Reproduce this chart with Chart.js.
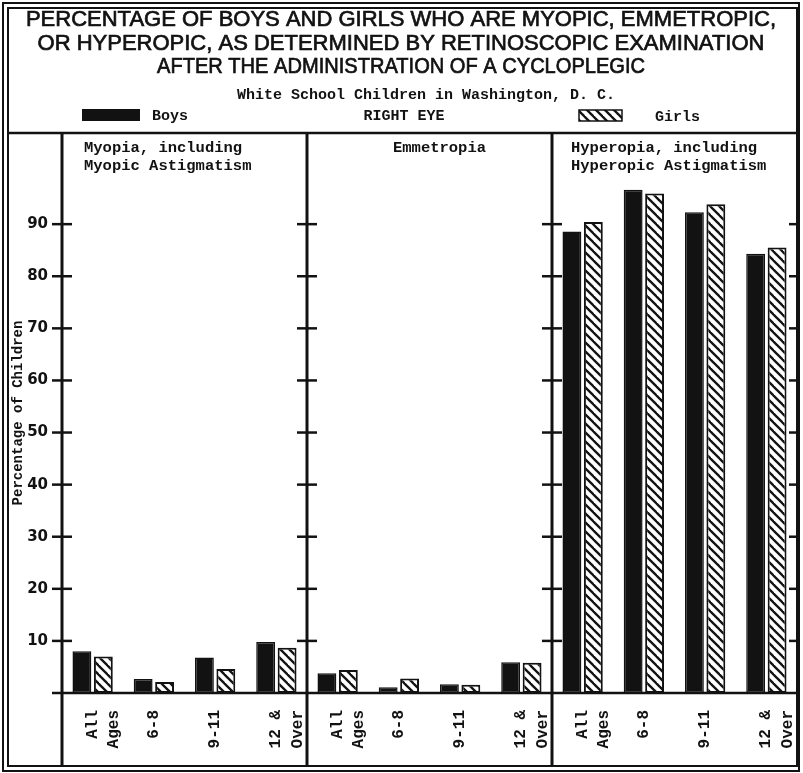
<!DOCTYPE html>
<html>
<head>
<meta charset="utf-8">
<script src="https://cdn.jsdelivr.net/npm/chart.js@4.4.1/dist/chart.umd.min.js"></script>
<style>
  html, body { margin: 0; padding: 0; background: #fff; }
  #wrap { width: 803px; height: 773px; }
</style>
</head>
<body>
<div id="wrap"><canvas id="eyeChart" width="803" height="773"></canvas></div>
<script>
// values (percent of children)
const ageGroups = [['All', 'Ages'], '6-8', '9-11', ['12 &', 'Over']];
const boysMyopia = [8.0, 2.7, 6.8, 9.8];
const girlsMyopia = [7.0, 2.1, 4.6, 8.7];
const boysEmmetropia = [3.8, 1.1, 1.7, 5.9];
const girlsEmmetropia = [4.4, 2.8, 1.6, 5.8];
const boysHyperopia = [88.6, 96.6, 92.3, 84.3];
const girlsHyperopia = [90.4, 95.9, 93.8, 85.5];
const yTicks = [10, 20, 30, 40, 50, 60, 70, 80, 90];

const panelTitles = [
    ['Myopia, including', 'Myopic Astigmatism'],
    ['Emmetropia'],
    ['Hyperopia, including', 'Hyperopic Astigmatism']
];
const titleLines = [
    'PERCENTAGE OF BOYS AND GIRLS WHO ARE MYOPIC, EMMETROPIC,',
    'OR HYPEROPIC, AS DETERMINED BY RETINOSCOPIC EXAMINATION',
    'AFTER THE ADMINISTRATION OF A CYCLOPLEGIC'
];
const subTitle = 'White School Children in Washington, D. C.';

const ink = '#121212';
const mono = '"Liberation Mono", "DejaVu Sans Mono", monospace';

const labels = ageGroups.concat(ageGroups, ageGroups);
const boys = boysMyopia.concat(boysEmmetropia, boysHyperopia);
const girls = girlsMyopia.concat(girlsEmmetropia, girlsHyperopia);

function makeHatch() {
    const c = document.createElement('canvas');
    c.width = 9;
    c.height = 9;
    const g = c.getContext('2d');
    g.fillStyle = '#fff';
    g.fillRect(0, 0, 9, 9);
    g.strokeStyle = ink;
    g.lineWidth = 2.3;
    [-9, 0, 9].forEach(k => {
        g.beginPath();
        g.moveTo(k - 1, -1);
        g.lineTo(k + 10, 10);
        g.stroke();
    });
    return document.getElementById('eyeChart').getContext('2d').createPattern(c, 'repeat');
}
const hatch = makeHatch();

// frame, header text, legend, separators and cross ticks
const framePlugin = {
    id: 'frame',
    afterDraw(chart) {
        const ctx = chart.ctx;
        const area = chart.chartArea;
        const x = chart.scales.x;
        const y = chart.scales.y;
        const bottom = 766;
        ctx.save();
        ctx.strokeStyle = ink;
        ctx.fillStyle = ink;

        // double outer border
        ctx.lineWidth = 2;
        ctx.strokeRect(3, 3, 796, 768);
        ctx.strokeRect(8, 8, 789, 758);

        // header rule
        ctx.lineWidth = 2.5;
        ctx.beginPath();
        ctx.moveTo(8, area.top);
        ctx.lineTo(797, area.top);
        ctx.stroke();

        // title
        ctx.textAlign = 'center';
        ctx.textBaseline = 'middle';
        ctx.font = '22px "Liberation Sans", Arial, sans-serif';
        ctx.lineWidth = 0.7;
        const widths = [765, 745, 488];
        const rows = [20, 44, 67];
        titleLines.forEach((t, i) => {
            ctx.fillText(t, 401, rows[i], widths[i]);
            ctx.strokeText(t, 401, rows[i], widths[i]);
        });

        ctx.font = 'bold 15px ' + mono;
        ctx.fillText(subTitle, 426, 95, 378);

        // legend row
        ctx.fillText('RIGHT EYE', 404, 116, 88);
        ctx.textAlign = 'left';
        ctx.fillText('Boys', 152, 116, 40);
        ctx.fillText('Girls', 655, 117, 46);
        ctx.fillRect(82, 109, 58, 12);
        ctx.fillStyle = hatch;
        ctx.fillRect(579, 110, 43, 11);
        ctx.lineWidth = 1.5;
        ctx.strokeRect(579, 110, 43, 11);
        ctx.fillStyle = ink;

        // vertical lines: axis, panel separators, right edge
        const sep1 = (x.getPixelForValue(3) + x.getPixelForValue(4)) / 2;
        const sep2 = (x.getPixelForValue(7) + x.getPixelForValue(8)) / 2;
        const verticals = [area.left, sep1, sep2];
        ctx.lineWidth = 3;
        verticals.forEach(vx => {
            ctx.beginPath();
            ctx.moveTo(vx, area.top);
            ctx.lineTo(vx, bottom);
            ctx.stroke();
        });

        // zero line runs a little past the axis on the left
        ctx.lineWidth = 2.5;
        ctx.beginPath();
        ctx.moveTo(area.left - 10, y.getPixelForValue(0));
        ctx.lineTo(797, y.getPixelForValue(0));
        ctx.stroke();

        // tick marks crossing each vertical
        ctx.lineWidth = 2.5;
        yTicks.forEach(v => {
            const py = y.getPixelForValue(v);
            verticals.forEach(vx => {
                ctx.beginPath();
                ctx.moveTo(vx - 10, py);
                ctx.lineTo(vx + 10, py);
                ctx.stroke();
            });
            ctx.beginPath();
            ctx.moveTo(789, py);
            ctx.lineTo(797, py);
            ctx.stroke();
        });

        // panel headings
        ctx.textAlign = 'left';
        ctx.textBaseline = 'alphabetic';
        ctx.font = 'bold 15.5px ' + mono;
        const headX = [area.left + 22, sep1 + 86, sep2 + 19];
        panelTitles.forEach((lines, i) => {
            lines.forEach((t, j) => ctx.fillText(t, headX[i], 152 + j * 18));
        });
        ctx.restore();
    }
};

new Chart(document.getElementById('eyeChart'), {
    type: 'bar',
    data: {
        labels: labels,
        datasets: [
            {
                label: 'Boys',
                data: boys,
                backgroundColor: ink,
                borderColor: ink,
                borderWidth: 1.5,
                borderSkipped: false,
                barPercentage: 0.88,
                categoryPercentage: 0.7
            },
            {
                label: 'Girls',
                data: girls,
                backgroundColor: hatch,
                borderColor: ink,
                borderWidth: 2,
                borderSkipped: false,
                barPercentage: 0.88,
                categoryPercentage: 0.7
            }
        ]
    },
    options: {
        responsive: false,
        animation: false,
        layout: { padding: { top: 133, left: 10, right: 6, bottom: 7 } },
        plugins: {
            legend: { display: false },
            tooltip: { enabled: false }
        },
        scales: {
            x: {
                grid: { display: false, drawTicks: false },
                border: { display: false },
                afterFit(scale) {
                    scale.height = 73;
                    scale.paddingLeft = 0;
                    scale.paddingRight = 0;
                },
                ticks: {
                    minRotation: 90,
                    maxRotation: 90,
                    autoSkip: false,
                    padding: 17,
                    color: ink,
                    font: { family: mono, weight: 'bold', size: 16, lineHeight: 1.35 }
                }
            },
            y: {
                min: 0,
                max: 107.5,
                grid: { display: false, drawTicks: false },
                border: { display: false },
                afterFit(scale) {
                    scale.width = 52;
                    scale.paddingTop = 0;
                    scale.paddingBottom = 0;
                },
                ticks: {
                    stepSize: 10,
                    includeBounds: false,
                    padding: 14,
                    color: ink,
                    font: { family: '"DejaVu Sans", sans-serif', weight: 'bold', size: 15 },
                    callback: v => (v >= 10 && v <= 90 ? v : '')
                },
                title: {
                    display: true,
                    text: 'Percentage of Children',
                    color: ink,
                    padding: { top: 0, bottom: 0 },
                    font: { family: mono, weight: 'bold', size: 14 }
                }
            }
        }
    },
    plugins: [framePlugin]
});
</script>
</body>
</html>
